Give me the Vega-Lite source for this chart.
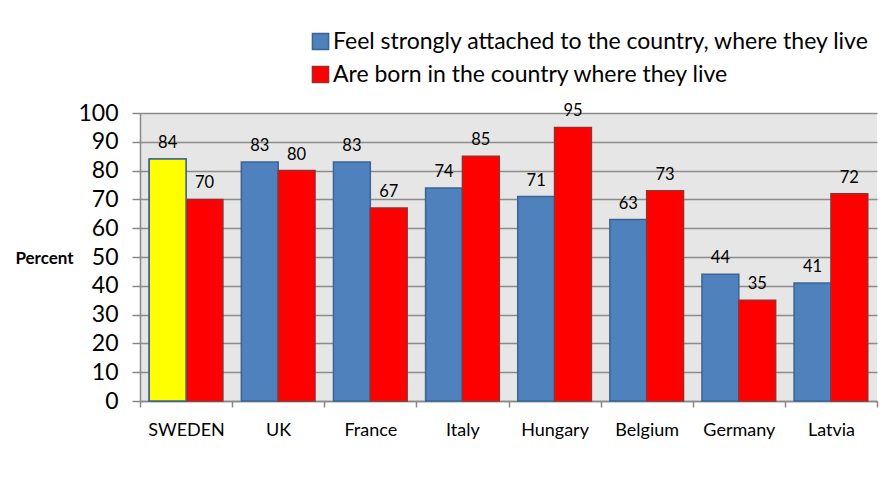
{
  "$schema": "https://vega.github.io/schema/vega-lite/v6.json",
  "autosize": "none",
  "width": 737,
  "height": 288,
  "padding": {"left": 140, "top": 113, "right": 5, "bottom": 89},
  "background": "white",
  "data": {
    "values": [
      {"country": "SWEDEN", "series": "Feel strongly attached to the country, where they live", "value": 84},
      {"country": "SWEDEN", "series": "Are born in the country where they live", "value": 70},
      {"country": "UK", "series": "Feel strongly attached to the country, where they live", "value": 83},
      {"country": "UK", "series": "Are born in the country where they live", "value": 80},
      {"country": "France", "series": "Feel strongly attached to the country, where they live", "value": 83},
      {"country": "France", "series": "Are born in the country where they live", "value": 67},
      {"country": "Italy", "series": "Feel strongly attached to the country, where they live", "value": 74},
      {"country": "Italy", "series": "Are born in the country where they live", "value": 85},
      {"country": "Hungary", "series": "Feel strongly attached to the country, where they live", "value": 71},
      {"country": "Hungary", "series": "Are born in the country where they live", "value": 95},
      {"country": "Belgium", "series": "Feel strongly attached to the country, where they live", "value": 63},
      {"country": "Belgium", "series": "Are born in the country where they live", "value": 73},
      {"country": "Germany", "series": "Feel strongly attached to the country, where they live", "value": 44},
      {"country": "Germany", "series": "Are born in the country where they live", "value": 35},
      {"country": "Latvia", "series": "Feel strongly attached to the country, where they live", "value": 41},
      {"country": "Latvia", "series": "Are born in the country where they live", "value": 72}
    ]
  },
  "encoding": {
    "x": {
      "field": "country",
      "type": "nominal",
      "sort": null,
      "scale": {"paddingInner": 0, "paddingOuter": 0},
      "axis": {
        "title": null,
        "labelAngle": 0,
        "labelFontSize": 18,
        "labelColor": "black",
        "labelPadding": 14,
        "tickBand": "extent",
        "tickSize": 6,
        "tickColor": "#888888",
        "domainColor": "#888888",
        "domainWidth": 1.5,
        "tickWidth": 1.5
      }
    },
    "xOffset": {
      "field": "series",
      "type": "nominal",
      "sort": ["Feel strongly attached to the country, where they live", "Are born in the country where they live"],
      "scale": {"paddingInner": 0, "paddingOuter": 0.25}
    },
    "y": {
      "field": "value",
      "type": "quantitative",
      "scale": {"domain": [0, 100], "nice": false},
      "axis": {
        "values": [0, 10, 20, 30, 40, 50, 60, 70, 80, 90, 100],
        "title": "Percent",
        "titleAngle": 0,
        "titleFontSize": 17,
        "titleFontWeight": "bold",
        "titleColor": "black",
        "titleAlign": "center",
        "titleBaseline": "middle",
        "titleX": -96,
        "titleY": 145,
        "labelFontSize": 23,
        "labelColor": "black",
        "labelPadding": 14,
        "tickSize": 8,
        "tickColor": "#888888",
        "tickWidth": 1.5,
        "domainColor": "#888888",
        "domainWidth": 1.5,
        "grid": true,
        "gridColor": "#8C8C8C",
        "gridWidth": 1.5
      }
    }
  },
  "layer": [
    {
      "mark": {"type": "bar", "strokeWidth": 1.5},
      "encoding": {
        "color": {
          "field": "series",
          "type": "nominal",
          "sort": ["Feel strongly attached to the country, where they live", "Are born in the country where they live"],
          "scale": {"range": ["#4F81BD", "#FF0000"]},
          "legend": {
            "title": null,
            "orient": "none",
            "legendX": 169,
            "legendY": -83,
            "symbolType": "square",
            "symbolSize": 260,
            "symbolStrokeWidth": 1.5,
            "symbolOpacity": 1,
            "labelFontSize": 23,
            "labelColor": "black",
            "labelOffset": 1,
            "rowPadding": 9,
            "labelLimit": 700,
            "encode": {
              "symbols": {
                "update": {
                  "fill": {"scale": "color", "field": "value"},
                  "stroke": {"scale": "stroke", "field": "value"},
                  "strokeWidth": {"value": 1.5}
                }
              }
            }
          }
        },
        "stroke": {
          "field": "series",
          "type": "nominal",
          "sort": ["Feel strongly attached to the country, where they live", "Are born in the country where they live"],
          "scale": {"range": ["#3A6494", "#9B2D2D"]},
          "legend": null
        }
      }
    },
    {
      "transform": [
        {"filter": "datum.country === 'SWEDEN' && datum.series === 'Feel strongly attached to the country, where they live'"}
      ],
      "mark": {"type": "bar", "strokeWidth": 1.5, "fill": "#FFFF00", "stroke": "#3A6494"}
    },
    {
      "mark": {"type": "text", "baseline": "bottom", "dy": -8, "fontSize": 16.5, "color": "black"},
      "encoding": {
        "text": {"field": "value", "type": "quantitative"}
      }
    }
  ],
  "config": {
    "font": "Lato",
    "view": {"stroke": null, "fill": "#E6E6E6"},
    "axis": {"labelFont": "Lato", "titleFont": "Lato"},
    "legend": {"labelFont": "Lato"}
  }
}
